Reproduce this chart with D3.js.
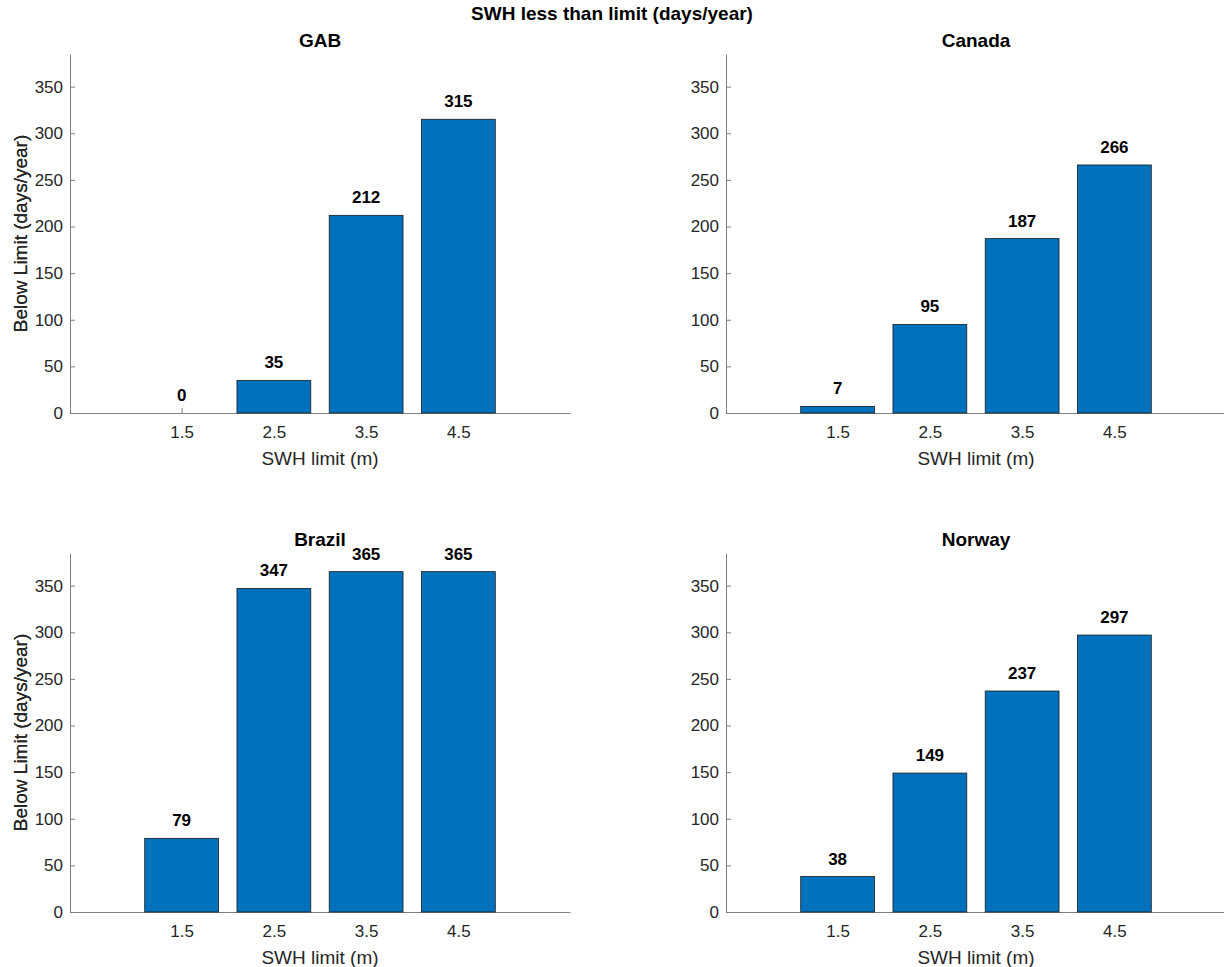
<!DOCTYPE html>
<html>
<head>
<meta charset="utf-8">
<script src="https://cdn.jsdelivr.net/npm/d3@7"></script>
<style>
  html, body { margin: 0; padding: 0; background: #fff; }
  svg { display: block; font-family: "Liberation Sans", Arial, Helvetica, sans-serif; }
</style>
</head>
<body>
<svg id="chart" width="1224" height="967"></svg>
<script>
// Days per year with significant wave height below each limit
const swhLimits = [1.5, 2.5, 3.5, 4.5];
const regionNames = ["GAB", "Canada", "Brazil", "Norway"];
const gabDays = [0, 35, 212, 315];
const canadaDays = [7, 95, 187, 266];
const brazilDays = [79, 347, 365, 365];
const norwayDays = [38, 149, 237, 297];
const yTickValues = [0, 50, 100, 150, 200, 250, 300, 350];
const xTickLabels = ["1.5", "2.5", "3.5", "4.5"];

const seriesByRegion = [gabDays, canadaDays, brazilDays, norwayDays];

const svg = d3.select("#chart");
const W = 1224, H = 967;

// panel layout: 2 x 2 grid
const panelW = 500;
const panelLefts = [70, 726];
const panelTops = [54, 553];
const panelH = 359;
const xDomain = [0.29, 5.71];
const yDomain = [0, 385];
const barWidth = 0.8;

const textColor = "#262626";
const axisColor = "#7f7f7f";
const barColor = "#0072BD";

// overall title
svg.append("text")
  .attr("x", W / 2).attr("y", 20)
  .attr("text-anchor", "middle")
  .attr("font-size", 19).attr("font-weight", "bold")
  .attr("fill", "#000")
  .text("SWH less than limit (days/year)");

regionNames.forEach((name, i) => {
  const col = i % 2, row = Math.floor(i / 2);
  const left = panelLefts[col], top = panelTops[row];
  const values = seriesByRegion[i];

  const x = d3.scaleLinear().domain(xDomain).range([0, panelW]);
  const y = d3.scaleLinear().domain(yDomain).range([panelH, 0]);

  const g = svg.append("g").attr("transform", `translate(${left},${top})`);

  // axes (drawn beneath the bars)
  const yAxis = d3.axisLeft(y).tickValues(yTickValues).tickSizeInner(-5).tickSizeOuter(0).tickPadding(7);
  const yG = g.append("g").call(yAxis);
  const xAxis = d3.axisBottom(x).tickValues(swhLimits).tickFormat((d, k) => xTickLabels[k])
    .tickSizeInner(-5).tickSizeOuter(0).tickPadding(13);
  const xG = g.append("g").attr("transform", `translate(0,${panelH})`).call(xAxis);

  [yG, xG].forEach(a => {
    a.select(".domain").attr("stroke", axisColor).attr("stroke-width", 1);
    a.selectAll(".tick line").attr("stroke", axisColor).attr("stroke-width", 1);
    a.selectAll(".tick text").attr("fill", textColor).attr("font-size", 17)
      .attr("font-family", "Liberation Sans, Arial, sans-serif");
  });

  // bars
  g.selectAll("rect.bar").data(values).join("rect")
    .attr("class", "bar")
    .attr("x", (d, k) => x(swhLimits[k] - barWidth / 2))
    .attr("width", (d, k) => x(swhLimits[k] + barWidth / 2) - x(swhLimits[k] - barWidth / 2))
    .attr("y", d => y(d))
    .attr("height", d => y(0) - y(d))
    .attr("fill", barColor)
    .attr("stroke", "#1a1a1a")
    .attr("stroke-width", 0.8);

  // value labels
  g.selectAll("text.val").data(values).join("text")
    .attr("class", "val")
    .attr("x", (d, k) => x(swhLimits[k]))
    .attr("y", d => y(d) - 12)
    .attr("text-anchor", "middle")
    .attr("font-size", 17).attr("font-weight", "bold")
    .attr("fill", "#000")
    .text(d => d);

  // panel title
  g.append("text")
    .attr("x", panelW / 2).attr("y", -7)
    .attr("text-anchor", "middle")
    .attr("font-size", 19).attr("font-weight", "bold")
    .attr("fill", "#000")
    .text(name);

  // axis labels
  g.append("text")
    .attr("x", panelW / 2).attr("y", panelH + 52)
    .attr("text-anchor", "middle")
    .attr("font-size", 19).attr("fill", textColor)
    .text("SWH limit (m)");

  g.append("text")
    .attr("transform", `translate(${27 - left},${panelH / 2}) rotate(-90)`)
    .attr("text-anchor", "middle")
    .attr("font-size", 19).attr("fill", textColor)
    .text("Below Limit (days/year)");
});
</script>
</body>
</html>
